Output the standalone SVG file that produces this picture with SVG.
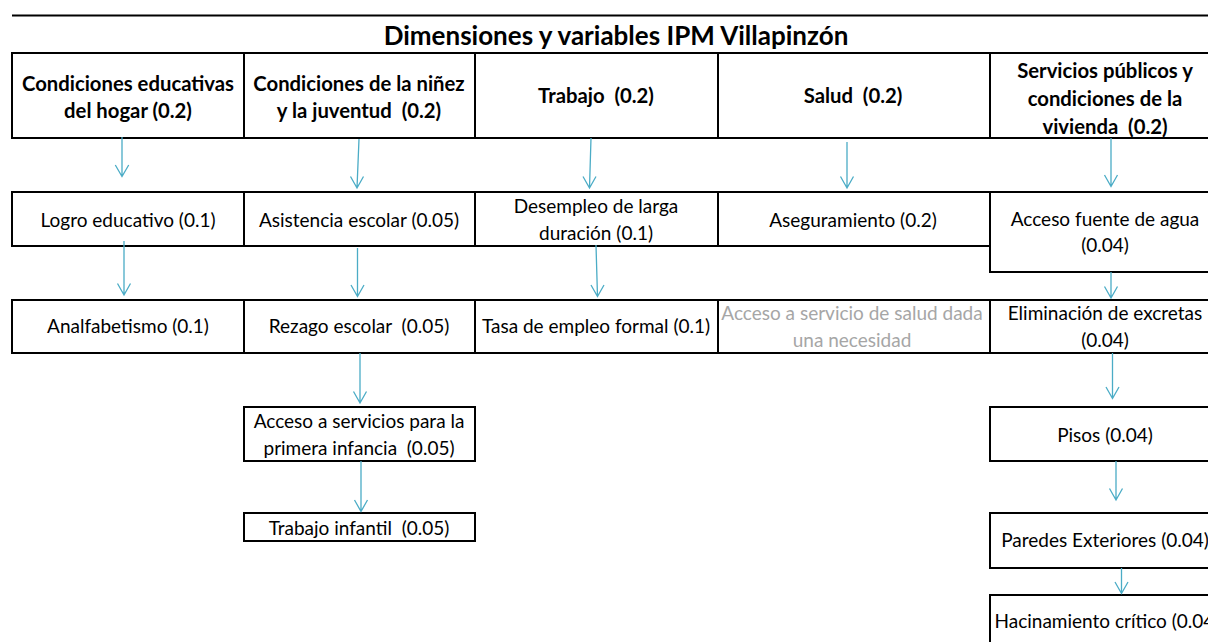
<svg xmlns="http://www.w3.org/2000/svg" width="1208" height="642" viewBox="0 0 1208 642">
<defs>
<style>
.box{fill:#ffffff;stroke:#000000;stroke-width:2}
.t{font-family:Lato,"Liberation Sans",sans-serif;font-size:19px;fill:#000000;text-anchor:middle}
.h{font-family:Lato,"Liberation Sans",sans-serif;font-size:20.3px;font-weight:bold;fill:#000000;text-anchor:middle}
.g{fill:#a6a6a6}
.c{fill:none;stroke:#4bacc6;stroke-width:1.3}
</style>
</defs>
<rect x="0" y="0" width="1208" height="642" fill="#ffffff"/>
<g id="title">
<line x1="12" y1="15.5" x2="1208" y2="15.5" stroke="#000" stroke-width="2"/>
<text x="616" y="45" class="h" style="font-size:26px">Dimensiones y variables IPM Villapinzón</text>
</g>
<g id="h1"><rect class="box" x="12" y="53" width="232" height="85"/><text class="h" x="128" y="90.5">Condiciones educativas</text><text class="h" x="128" y="118">del hogar (0.2)</text></g>
<g id="h2"><rect class="box" x="244" y="53" width="231" height="85"/><text class="h" x="359" y="90.5">Condiciones de la niñez</text><text class="h" x="359" y="118" xml:space="preserve">y la juventud  (0.2)</text></g>
<g id="h3"><rect class="box" x="475" y="53" width="243" height="85"/><text class="h" x="596" y="103" xml:space="preserve">Trabajo  (0.2)</text></g>
<g id="h4"><rect class="box" x="718" y="53" width="272" height="85"/><text class="h" x="853" y="103" xml:space="preserve">Salud  (0.2)</text></g>
<g id="h5"><rect class="box" x="990" y="53" width="231" height="85"/><text class="h" x="1105" y="78">Servicios públicos y</text><text class="h" x="1105" y="106">condiciones de la</text><text class="h" x="1105" y="134" xml:space="preserve">vivienda  (0.2)</text></g>

<g id="n_logro"><rect class="box" x="12" y="192" width="232" height="54"/><text class="t" x="128" y="227">Logro educativo (0.1)</text></g>
<g id="n_asistencia"><rect class="box" x="244" y="192" width="231" height="54"/><text class="t" x="359" y="227">Asistencia escolar (0.05)</text></g>
<g id="n_desempleo"><rect class="box" x="475" y="192" width="243" height="54"/><text class="t" x="596" y="213">Desempleo de larga</text><text class="t" x="596" y="240">duración (0.1)</text></g>
<g id="n_aseguramiento"><rect class="box" x="718" y="192" width="272" height="54"/><text class="t" x="853" y="227">Aseguramiento (0.2)</text></g>
<g id="n_agua"><rect class="box" x="990" y="192" width="231" height="80"/><text class="t" x="1105" y="226">Acceso fuente de agua</text><text class="t" x="1105" y="252">(0.04)</text></g>

<g id="n_analfabetismo"><rect class="box" x="12" y="300" width="232" height="53"/><text class="t" x="128" y="333">Analfabetismo (0.1)</text></g>
<g id="n_rezago"><rect class="box" x="244" y="300" width="231" height="53"/><text class="t" x="359" y="333" xml:space="preserve">Rezago escolar  (0.05)</text></g>
<g id="n_tasa"><rect class="box" x="475" y="300" width="243" height="53"/><text class="t" x="596" y="333">Tasa de empleo formal (0.1)</text></g>
<g id="n_accesosalud"><rect class="box" x="718" y="300" width="272" height="53"/><text class="t g" x="852" y="320">Acceso a servicio de salud dada</text><text class="t g" x="852" y="346.5">una necesidad</text></g>
<g id="n_excretas"><rect class="box" x="990" y="300" width="231" height="53"/><text class="t" x="1105" y="320">Eliminación de excretas</text><text class="t" x="1105" y="346.5">(0.04)</text></g>

<g id="n_primera"><rect class="box" x="244" y="407" width="231" height="54"/><text class="t" x="359" y="428">Acceso a servicios para la</text><text class="t" x="359" y="455" xml:space="preserve">primera infancia  (0.05)</text></g>
<g id="n_infantil"><rect class="box" x="244" y="513" width="231" height="28"/><text class="t" x="359" y="535" xml:space="preserve">Trabajo infantil  (0.05)</text></g>
<g id="n_pisos"><rect class="box" x="990" y="407" width="231" height="54"/><text class="t" x="1105" y="441.5">Pisos (0.04)</text></g>
<g id="n_paredes"><rect class="box" x="990" y="513" width="231" height="55"/><text class="t" x="1105" y="546.5">Paredes Exteriores (0.04)</text></g>
<g id="n_hacinamiento"><rect class="box" x="990" y="595" width="231" height="60"/><text class="t" x="1107" y="628">Hacinamiento crítico (0.04)</text></g>

<g id="connectors" class="c">
<path d="M122,137 L122,176.5 M115.3,165 L122,176.5 L128.7,165"/>
<path d="M359,139 L357,188 M350.5,176.5 L357,188 L363.5,176.5"/>
<path d="M591,138 L589.5,188 M583,176.5 L589.5,188 L596,176.5"/>
<path d="M847,142 L847,188 M840.5,176.5 L847,188 L853.5,176.5"/>
<path d="M1111,138 L1111,186.5 M1104.5,175 L1111,186.5 L1117.5,175"/>
<path d="M124,241 L124,295 M117.5,283.5 L124,295 L130.5,283.5"/>
<path d="M357.5,248 L357.5,296.5 M351,285 L357.5,296.5 L364,285"/>
<path d="M596,245 L597.5,296.5 M591,285 L597.5,296.5 L604,285"/>
<path d="M1111,272 L1111,298 M1104.5,286.5 L1111,298 L1117.5,286.5"/>
<path d="M360,353 L360,403 M353.5,391.5 L360,403 L366.5,391.5"/>
<path d="M1112.5,353 L1112.5,398.5 M1106,387 L1112.5,398.5 L1119,387"/>
<path d="M361,461 L361,511.5 M354.5,500 L361,511.5 L367.5,500"/>
<path d="M1116,461 L1116,500 M1109.5,488.5 L1116,500 L1122.5,488.5"/>
<path d="M1121.5,568 L1121.5,593.5 M1115,582 L1121.5,593.5 L1128,582"/>
</g>
</svg>
